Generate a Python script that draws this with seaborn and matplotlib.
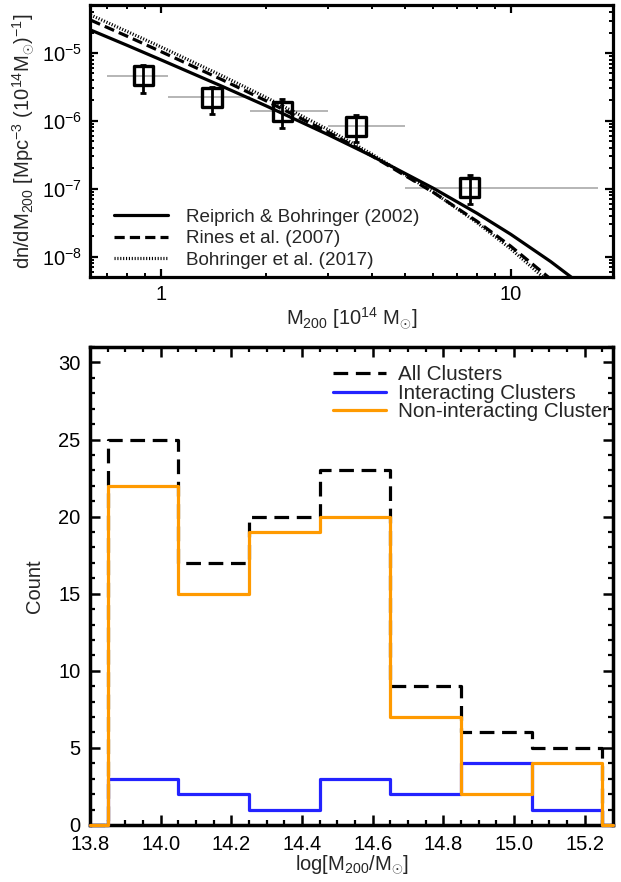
import numpy as np
import pandas as pd
import matplotlib
matplotlib.use("Agg")
import matplotlib.pyplot as plt
from matplotlib.ticker import LogLocator, NullFormatter, FixedLocator, FixedFormatter, MultipleLocator
import seaborn as sns

# ---------------- data: top panel (mass function) ----------------
model_mass = [0.63, 0.8, 1.0, 1.5, 2.0, 3.0, 4.0, 6.0, 8.0, 10.0, 13.0, 16.0]
reiprich_2002 = [2.18e-5, 1.30e-5, 7.94e-6, 3.21e-6, 1.66e-6, 6.29e-7, 3.05e-7,
                 1.02e-7, 4.36e-8, 2.13e-8, 8.45e-9, 3.76e-9]
rines_2007 = [3.05e-5, 1.77e-5, 1.05e-5, 4.01e-6, 1.97e-6, 6.84e-7, 3.07e-7,
              8.87e-8, 3.32e-8, 1.42e-8, 4.67e-9, 1.73e-9]
bohringer_2017 = [3.63e-5, 2.08e-5, 1.23e-5, 4.59e-6, 2.21e-6, 7.47e-7, 3.26e-7,
                  8.95e-8, 3.18e-8, 1.30e-8, 3.99e-9, 1.38e-9]

obs_mass = [0.89, 1.40, 2.22, 3.61, 7.64]
obs_dens = [4.6e-6, 2.24e-6, 1.39e-6, 8.3e-7, 1.04e-7]
obs_hi = [6.6e-6, 3.2e-6, 2.1e-6, 1.21e-6, 1.6e-7]
obs_lo = [2.6e-6, 1.26e-6, 7.8e-7, 4.9e-7, 5.9e-8]
obs_bin_lo = [0.70, 1.05, 1.80, 3.0, 5.0]
obs_bin_hi = [1.05, 1.80, 3.0, 5.0, 17.8]

# ---------------- data: bottom panel (histogram) ----------------
bin_edges = [13.85, 14.05, 14.25, 14.45, 14.65, 14.85, 15.05, 15.25]
all_counts = [25, 17, 20, 23, 9, 6, 5]
interacting_counts = [3, 2, 1, 3, 2, 4, 1]
noninteracting_counts = [22, 15, 19, 20, 7, 2, 4]
hist_xlim = (13.8, 15.28)

# ---------------- style ----------------
sns.set_theme(style="ticks")
plt.rcParams["font.family"] = ["Liberation Sans", "DejaVu Sans"]
plt.rcParams["mathtext.fontset"] = "custom"
plt.rcParams["mathtext.rm"] = "Liberation Sans"
plt.rcParams["mathtext.it"] = "Liberation Sans:italic"
plt.rcParams["mathtext.bf"] = "Liberation Sans:bold"
plt.rcParams["axes.linewidth"] = 2.3
plt.rcParams["axes.edgecolor"] = "black"

fig = plt.figure(figsize=(6.21, 8.82), dpi=100)
W, H = 621.0, 882.0
ax1 = fig.add_axes([90 / W, 1 - 277 / H, 523 / W, 272 / H])
ax2 = fig.add_axes([90 / W, 1 - 825 / H, 523 / W, 478 / H])

# ---------------- top panel ----------------
ax1.set_xscale("log")
ax1.set_yscale("log")

lw = 2.3
sns.lineplot(x=model_mass, y=reiprich_2002, ax=ax1, color="black", lw=lw,
             estimator=None, sort=False, label="Reiprich & Bohringer (2002)")
sns.lineplot(x=model_mass, y=rines_2007, ax=ax1, color="black", lw=lw,
             linestyle=(0, (3.2, 1.6)), estimator=None, sort=False,
             label="Rines et al. (2007)")
sns.lineplot(x=model_mass, y=bohringer_2017, ax=ax1, color="black", lw=lw,
             linestyle=(0, (0.35, 0.55)), estimator=None, sort=False,
             label="Bohringer et al. (2017)")

ax1.hlines(obs_dens, obs_bin_lo, obs_bin_hi, color="#b0b0b0", lw=1.3, zorder=1)
obs_dens_a = np.array(obs_dens)
ax1.errorbar(obs_mass, obs_dens,
             yerr=[obs_dens_a - np.array(obs_lo), np.array(obs_hi) - obs_dens_a],
             fmt="none", ecolor="black", elinewidth=2.0, capsize=2.2, capthick=2.0,
             zorder=4)
sns.scatterplot(x=obs_mass, y=obs_dens, ax=ax1, marker="s", s=190,
                facecolor="none", edgecolor="black", linewidth=2.4, zorder=5)

ax1.set_xlim(0.627, 19.6)
ax1.set_ylim(5e-9, 5.1e-5)
ax1.xaxis.set_major_locator(FixedLocator([1, 10]))
ax1.xaxis.set_major_formatter(FixedFormatter(["1", "10"]))
ax1.xaxis.set_minor_locator(LogLocator(base=10, subs=np.arange(2, 10)))
ax1.xaxis.set_minor_formatter(NullFormatter())
ax1.yaxis.set_major_locator(FixedLocator([1e-8, 1e-7, 1e-6, 1e-5]))
ax1.yaxis.set_major_formatter(FixedFormatter(
    [r"10$^{-8}$", r"10$^{-7}$", r"10$^{-6}$", r"10$^{-5}$"]))
ax1.yaxis.set_minor_locator(LogLocator(base=10, subs=np.arange(2, 10), numticks=20))
ax1.yaxis.set_minor_formatter(NullFormatter())
ax1.tick_params(which="both", direction="in", top=True, right=True,
                labelsize=14.5, colors="black")
ax1.tick_params(which="major", length=6, width=1.6, pad=6)
ax1.tick_params(which="minor", length=3.2, width=1.4)
ax1.set_xlabel(r"M$_{200}$ [10$^{14}$ M$_{\odot}$]", fontsize=14.5, labelpad=1)
ax1.set_ylabel(r"dn/dM$_{200}$ [Mpc$^{-3}$ (10$^{14}$M$_{\odot}$)$^{-1}$]",
               fontsize=14.5, labelpad=4)
for sp in ax1.spines.values():
    sp.set_linewidth(2.3)
leg1 = ax1.legend(loc="lower left", bbox_to_anchor=(0.045, 0.03), frameon=False,
                  fontsize=13.6, handlelength=2.9, handletextpad=0.95,
                  labelspacing=0.22, borderaxespad=0, borderpad=0)

# ---------------- bottom panel ----------------
def padded(counts):
    xs = [hist_xlim[0]] + list(bin_edges) + [hist_xlim[1]]
    ys = [0] + list(counts) + [0, 0]
    return xs, ys

x_all, y_all = padded(all_counts)
x_int, y_int = padded(interacting_counts)
x_non, y_non = padded(noninteracting_counts)

sns.lineplot(x=x_all, y=y_all, ax=ax2, color="black", lw=2.3,
             linestyle=(0, (4.6, 2.4)), drawstyle="steps-post",
             estimator=None, sort=False, label="All Clusters",
             zorder=3, clip_on=False)
sns.lineplot(x=x_int, y=y_int, ax=ax2, color="#2323ff", lw=2.3,
             drawstyle="steps-post", estimator=None, sort=False,
             label="Interacting Clusters", zorder=3.1, clip_on=False)
sns.lineplot(x=x_non, y=y_non, ax=ax2, color="#ff9a00", lw=2.3,
             drawstyle="steps-post", estimator=None, sort=False,
             label="Non-interacting Cluster", zorder=3.2, clip_on=False)

ax2.set_xlim(*hist_xlim)
ax2.set_ylim(0, 31)
ax2.xaxis.set_major_locator(FixedLocator(np.round(np.arange(13.8, 15.21, 0.2), 1)))
ax2.xaxis.set_major_formatter(FixedFormatter(
    ["13.8", "14.0", "14.2", "14.4", "14.6", "14.8", "15.0", "15.2"]))
ax2.xaxis.set_minor_locator(MultipleLocator(0.05))
ax2.yaxis.set_major_locator(MultipleLocator(5))
ax2.yaxis.set_minor_locator(MultipleLocator(1))
ax2.tick_params(which="both", direction="in", top=True, right=True,
                labelsize=14.5, colors="black")
ax2.tick_params(which="major", length=7, width=1.8, pad=7)
ax2.tick_params(which="minor", length=3.8, width=1.6)
ax2.set_xlabel(r"log[M$_{200}$/M$_{\odot}$]", fontsize=14.5, labelpad=0)
ax2.set_ylabel("Count", fontsize=14.5, labelpad=10)
for sp in ax2.spines.values():
    sp.set_linewidth(2.5)
leg2 = ax2.legend(loc="upper right", bbox_to_anchor=(0.992, 0.962), frameon=False,
                  fontsize=14.9, handlelength=2.6, handletextpad=0.55,
                  labelspacing=-0.02, borderaxespad=0, borderpad=0)

fig.savefig("out.png", dpi=100)
